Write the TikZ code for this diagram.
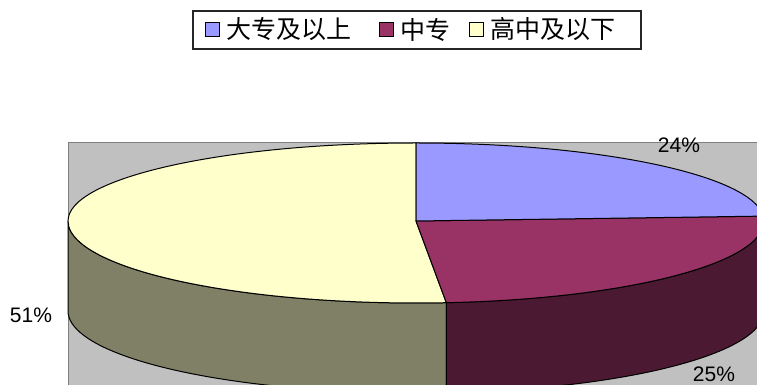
\documentclass[tikz,border=0pt]{standalone}
\usepackage{fontspec}
\setmainfont{Liberation Sans}
\newfontfamily\cjk{Noto Sans CJK SC}
\usetikzlibrary{positioning}

\definecolor{plotgray}{HTML}{C0C0C0}
\definecolor{blueslice}{HTML}{9999FF}
\definecolor{magslice}{HTML}{993366}
\definecolor{yelslice}{HTML}{FFFFCC}
\definecolor{magside}{HTML}{4C1933}
\definecolor{yelside}{HTML}{808066}

\tikzset{
  pieface/.style={draw=black,line width=1pt,line join=round},
  legkey/.style={draw=black,line width=1pt,minimum size=14pt,inner sep=0pt},
  legtext/.style={inner sep=0pt,font=\cjk\fontsize{25}{25}\selectfont},
  pct/.style={inner sep=0pt,font=\fontsize{21}{21}\selectfont}
}

\begin{document}
\begin{tikzpicture}[x=1pt,y=1pt]
  \useasboundingbox (0,0) rectangle (757,385);

  % plot area
  \fill[plotgray] (68,-2) rectangle (760,242);
  \draw[gray,line width=1pt] (68,-2) -- (68,242) -- (760,242);

  \coordinate (c) at (416,164);

  % sides
  \path[pieface,fill=yelside] (c) ++(180:348 and 82)
    arc[start angle=180,end angle=275,x radius=348,y radius=82] -- ++(0,-90)
    arc[start angle=275,end angle=180,x radius=348,y radius=82] -- cycle;
  \path[pieface,fill=magside] (c) ++(275:348 and 82)
    arc[start angle=275,end angle=360,x radius=348,y radius=82] -- ++(0,-90)
    arc[start angle=360,end angle=275,x radius=348,y radius=82] -- cycle;

  % top
  \path[pieface,fill=yelslice] (c) -- ++(90:348 and 78)
    arc[start angle=90,end angle=180,x radius=348,y radius=78]
    arc[start angle=180,end angle=275,x radius=348,y radius=82] -- cycle;
  \path[pieface,fill=magslice] (c) -- ++(275:348 and 82)
    arc[start angle=275,end angle=360,x radius=348,y radius=82]
    arc[start angle=0,end angle=3.6,x radius=348,y radius=78] -- cycle;
  \path[pieface,fill=blueslice] (c) -- ++(3.6:348 and 78)
    arc[start angle=3.6,end angle=90,x radius=348,y radius=78] -- cycle;

  \begin{scope}[every node/.style={pct}]
    \node (p24) at (679,240) {24\%};
    \node (p25) at (714,11)  {25\%};
    \node (p51) at (31,70)   {51\%};
  \end{scope}

  % legend
  \node[draw=black!85,line width=1.5pt,minimum width=448pt,minimum height=38pt,inner sep=0pt] (leg) at (417,355) {};
  \node[legkey,fill=blueslice] (k1) at (212.5,355.5) {};
  \node[legkey,fill=magslice]  (k2) at (386.5,355.5) {};
  \node[legkey,fill=yelslice]  (k3) at (476.5,355.5) {};
  \node[legtext,right=6pt of k1] (t1) {大专及以上};
  \node[legtext,right=6pt of k2] (t2) {中专};
  \node[legtext,right=6pt of k3] (t3) {高中及以下};

\end{tikzpicture}
\end{document}
